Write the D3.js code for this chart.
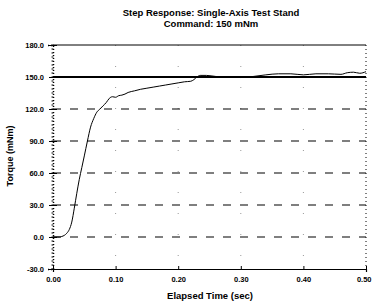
<!DOCTYPE html>
<html><head><meta charset="utf-8">
<script src="https://cdn.jsdelivr.net/npm/d3@7"></script>
<style>body{margin:0;background:#fff}svg{display:block}text{font-family:Arial,"Liberation Sans",sans-serif;font-weight:bold;fill:#000}</style>
</head><body><div id="chart"></div>
<script>
const titleLines = ["Step Response: Single-Axis Test Stand", "Command: 150 mNm"];
const xLabel = "Elapsed Time (sec)";
const yLabel = "Torque (mNm)";
const xTicks = [0, 0.1, 0.2, 0.3, 0.4, 0.5];
const xTickLabels = ["0.00", "0.10", "0.20", "0.30", "0.40", "0.50"];
const yTicks = [-30, 0, 30, 60, 90, 120, 150, 180];
const yTickLabels = ["-30.0", "0.0", "30.0", "60.0", "90.0", "120.0", "150.0", "180.0"];
const dashedLevels = [0, 30, 60, 90, 120];
const commandLevel = 150;
const time = [0, 0.010, 0.014, 0.018, 0.022, 0.026, 0.030, 0.034, 0.038, 0.042, 0.046, 0.050, 0.055, 0.060, 0.065, 0.070, 0.075, 0.080, 0.085, 0.090, 0.095, 0.100, 0.105, 0.110, 0.115, 0.120, 0.130, 0.140, 0.150, 0.160, 0.170, 0.180, 0.190, 0.200, 0.210, 0.220, 0.225, 0.230, 0.235, 0.245, 0.260, 0.280, 0.300, 0.320, 0.340, 0.360, 0.380, 0.400, 0.420, 0.440, 0.460, 0.470, 0.480, 0.490, 0.500];
const torque = [0, 0, 0.5, 1.5, 3.5, 7, 14, 27, 41, 54, 65, 76, 90, 103, 111, 117, 120, 123, 126, 130, 131.5, 131, 132.5, 133, 134, 135.5, 137, 138.5, 139.5, 140.5, 141.5, 142.5, 143.5, 144.5, 145.5, 146, 147.5, 150, 151.5, 151.5, 150.5, 150, 149.5, 150.5, 152, 153, 153, 152, 153, 153, 152.5, 154, 154.5, 153.5, 155];

const W = 372, H = 304;
const m = {left: 53, right: 6, top: 45, bottom: 35};
const svg = d3.select("#chart").append("svg").attr("width", W).attr("height", H);
const x = d3.scaleLinear().domain([0, 0.5]).range([m.left, W - m.right]);
const y = d3.scaleLinear().domain([-30, 180]).range([H - m.bottom, m.top]);

// Titles
svg.selectAll("text.title").data(titleLines).join("text").attr("class", "title")
  .attr("x", 211).attr("y", (d, i) => 16 + i * 11).attr("text-anchor", "middle")
  .attr("font-size", 9.5).text(d => d);

// faint vertical dotted gridlines
svg.append("g").selectAll("line").data(xTicks.slice(1, 5)).join("line")
  .attr("x1", d => x(d)).attr("x2", d => x(d)).attr("y1", y(180)).attr("y2", y(-30))
  .attr("stroke", "#999").attr("stroke-width", 1).attr("stroke-dasharray", "1,20");

// dashed horizontal gridlines
svg.append("g").selectAll("line").data(dashedLevels).join("line")
  .attr("x1", x(0)).attr("x2", x(0.5)).attr("y1", d => y(d)).attr("y2", d => y(d))
  .attr("stroke", "#000").attr("stroke-width", 1.1).attr("stroke-dasharray", "8,9");

// top line 180
svg.append("line").attr("x1", x(0)).attr("x2", x(0.5)).attr("y1", y(180)).attr("y2", y(180))
  .attr("stroke", "#000").attr("stroke-width", 1);

// Y axis
const yAxis = d3.axisLeft(y).tickValues(yTicks).tickSize(5).tickFormat((d, i) => yTickLabels[i]);
const gy = svg.append("g").attr("transform", `translate(${x(0)},0)`).call(yAxis);
gy.select(".domain").attr("stroke-dasharray", "1,2").attr("stroke-width", 1.5);
gy.selectAll(".tick text").attr("font-size", 7.5).attr("font-family", "Arial").attr("font-weight", "bold").attr("x", -9);
gy.selectAll(".tick line").attr("x2", -4).attr("x1", 4);

// minor dotted ticks on left axis
const minor = d3.range(-30, 181, 3.75);
svg.append("g").selectAll("line").data(minor).join("line")
  .attr("x1", x(0) - 1.5).attr("x2", x(0) + 0.5).attr("y1", d => y(d)).attr("y2", d => y(d))
  .attr("stroke", "#000").attr("stroke-width", 1);

// right dotted border
svg.append("line").attr("x1", x(0.5)).attr("x2", x(0.5)).attr("y1", y(180)).attr("y2", y(-30))
  .attr("stroke", "#000").attr("stroke-width", 1).attr("stroke-dasharray", "1,3");

// X axis
const xAxis = d3.axisBottom(x).tickValues(xTicks).tickSize(3).tickFormat((d, i) => xTickLabels[i]);
const gx = svg.append("g").attr("transform", `translate(0,${y(-30)})`).call(xAxis);
gx.select(".domain").attr("stroke-width", 1.2);
gx.selectAll(".tick text").attr("font-size", 7.5).attr("font-family", "Arial").attr("font-weight", "bold").attr("dy", "0.9em");
gx.selectAll(".tick text").filter((d, i) => i === xTicks.length - 1).attr("text-anchor", "end").attr("x", 5);
gx.selectAll(".tick line").attr("y1", -3).attr("y2", 0);

// Command line
svg.append("line").attr("x1", x(0)).attr("x2", x(0.5)).attr("y1", y(commandLevel)).attr("y2", y(commandLevel))
  .attr("stroke", "#000").attr("stroke-width", 2.2);

// Response curve
const data = time.map((t, i) => [t, torque[i]]);
svg.append("path").datum(data)
  .attr("fill", "none").attr("stroke", "#000").attr("stroke-width", 1)
  .attr("d", d3.line().x(d => x(d[0])).y(d => y(d[1])).curve(d3.curveMonotoneX));

// Axis titles
svg.append("text").attr("x", 210).attr("y", 299).attr("text-anchor", "middle").attr("font-size", 9.5).text(xLabel);
svg.append("text").attr("transform", `translate(13,156) rotate(-90)`).attr("text-anchor", "middle").attr("font-size", 9).text(yLabel);
</script></body></html>
